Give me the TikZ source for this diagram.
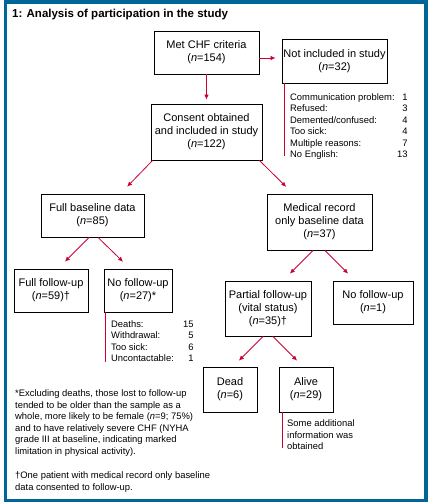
\documentclass[tikz,border=0pt]{standalone}
\usepackage{fontspec}
\setmainfont{Liberation Sans}
\usetikzlibrary{arrows.meta}
\definecolor{bmjblue}{RGB}{0,102,153}
\definecolor{bmjred}{RGB}{204,0,51}

\begin{document}
\begin{tikzpicture}[x=1pt,y=-1pt,
    box/.style={draw,line width=0.9pt,align=center,inner sep=0pt,
        font=\fontsize{11}{13}\selectfont},
    arr/.style={bmjred,line width=0.8pt,-{Latex[length=5pt,width=4.5pt]}},
    redrule/.style={bmjred,line width=0.8pt},
    small/.style={inner sep=0pt,align=left,anchor=north west,
        font=\fontsize{9.4}{11.5}\selectfont}]
                \useasboundingbox (0,0) rectangle (432,504);
                \draw[bmjblue,line width=3.5pt]
                    (5.5,1.75) rectangle (425.75,500.5);
                \node[anchor=west,inner sep=0pt,font=\bfseries\fontsize{11.5}{13}\selectfont]
                    (title) at (12,15) {1: Analysis of participation in the study};
                % boxes
                \node[box,minimum width=105pt,minimum height=43pt]
                    (crit) at (206.5,52.5) {Met CHF criteria\\(\textit{n}=154)};
                \node[box,minimum width=105pt,minimum height=44pt]
                    (notinc) at (334.5,61) {Not included in study\\(\textit{n}=32)};
                \node[box,minimum width=111pt,minimum height=56pt]
                    (consent) at (206.5,132) {Consent obtained\\and included in study\\(\textit{n}=122)};
                \node[box,minimum width=103pt,minimum height=43pt]
                    (fullbase) at (92.5,215.5) {Full baseline data\\(\textit{n}=85)};
                \node[box,minimum width=105pt,minimum height=56pt]
                    (medrec) at (319.5,222) {Medical record\\only baseline data\\(\textit{n}=37)};
                \node[box,minimum width=74pt,minimum height=43pt]
                    (fullfu) at (51,290.5) {Full follow-up\\(\textit{n}=59)\textdagger};
                \node[box,minimum width=68pt,minimum height=43pt]
                    (nofu) at (138,290.5) {No follow-up\\(\textit{n}=27)*};
                \node[box,minimum width=86pt,minimum height=55pt]
                    (partial) at (268,308.5) {Partial follow-up\\(vital status)\\(\textit{n}=35)\textdagger};
                \node[box,minimum width=80pt,minimum height=43pt]
                    (nofutwo) at (373,302.5) {No follow-up\\(\textit{n}=1)};
                \node[box,minimum width=54pt,minimum height=45pt]
                    (dead) at (230,389.5) {Dead\\(\textit{n}=6)};
                \node[box,minimum width=54pt,minimum height=45pt]
                    (alive) at (306,389.5) {Alive\\(\textit{n}=29)};
                % lists and notes
                \node[small] (reasons) at (290,92) {\begin{tabular}{@{}p{107pt}@{}r@{}}
                    Communication problem: & 1\\
                    Refused: & 3\\
                    Demented/confused: & 4\\
                    Too sick: & 4\\
                    Multiple reasons: & 7\\
                    No English: & 13
                    \end{tabular}};
                \node[small] (deaths) at (111,319) {\begin{tabular}{@{}p{72pt}@{}r@{}}
                    Deaths: & 15\\
                    Withdrawal: & 5\\
                    Too sick: & 6\\
                    Uncontactable: & 1
                    \end{tabular}};
                \node[small] (info) at (287,419.5)
                    {Some additional\\information was\\obtained};
                \node[small] (notestar) at (15,389.5)
                    {*Excluding deaths, those lost to follow-up\\
                    tended to be older than the sample as a\\
                    whole, more likely to be female (\textit{n}=9; 75\%)\\
                    and to have relatively severe CHF (NYHA\\
                    grade III at baseline, indicating marked\\
                    limitation in physical activity).};
                \node[small] (notedag) at (15,471.5)
                    {\textdagger One patient with medical record only baseline\\
                    data consented to follow-up.};
                % connectors
                \draw[arr,shorten >=4pt] (crit.south) -- (consent.north);
                \draw[arr,shorten >=6pt]
                    ([yshift=-5.5pt]crit.east) -- ([yshift=3pt]notinc.west);
                \draw[arr,shorten >=9.5pt]
                    ([xshift=2pt]consent.south west) -- ([xshift=28pt]fullbase.north);
                \draw[arr,shorten >=9.5pt]
                    ([xshift=-3pt]consent.south east) -- ([xshift=-26.5pt]medrec.north);
                \draw[arr,shorten >=9.7pt]
                    ([xshift=-3.5pt]fullbase.south) -- ([xshift=7pt]fullfu.north);
                \draw[arr,shorten >=9.7pt]
                    ([xshift=5.5pt]fullbase.south) -- ([xshift=-8pt]nofu.north);
                \draw[arr,shorten >=9.7pt]
                    ([xshift=-6.5pt]medrec.south) -- ([xshift=15pt]partial.north);
                \draw[arr,shorten >=9.7pt]
                    ([xshift=5.5pt]medrec.south) -- ([xshift=-18pt]nofutwo.north);
                \draw[arr,shorten >=8.3pt]
                    ([xshift=-5pt]partial.south) -- ([xshift=3pt]dead.north);
                \draw[arr,shorten >=8.3pt]
                    ([xshift=5pt]partial.south) -- ([xshift=-3pt]alive.north);
                \draw[redrule,shorten >=5pt]
                    ([xshift=3pt]notinc.south west) -- ([xshift=3pt]notinc.south west |- reasons.south);
                \draw[redrule,shorten >=3pt]
                    ([xshift=2pt]nofu.south west) -- ([xshift=2pt]nofu.south west |- deaths.south);
                \draw[redrule,shorten >=1.5pt]
                    ([xshift=4pt]alive.south west) -- ([xshift=4pt]alive.south west |- info.south);
\end{tikzpicture}
\end{document}
